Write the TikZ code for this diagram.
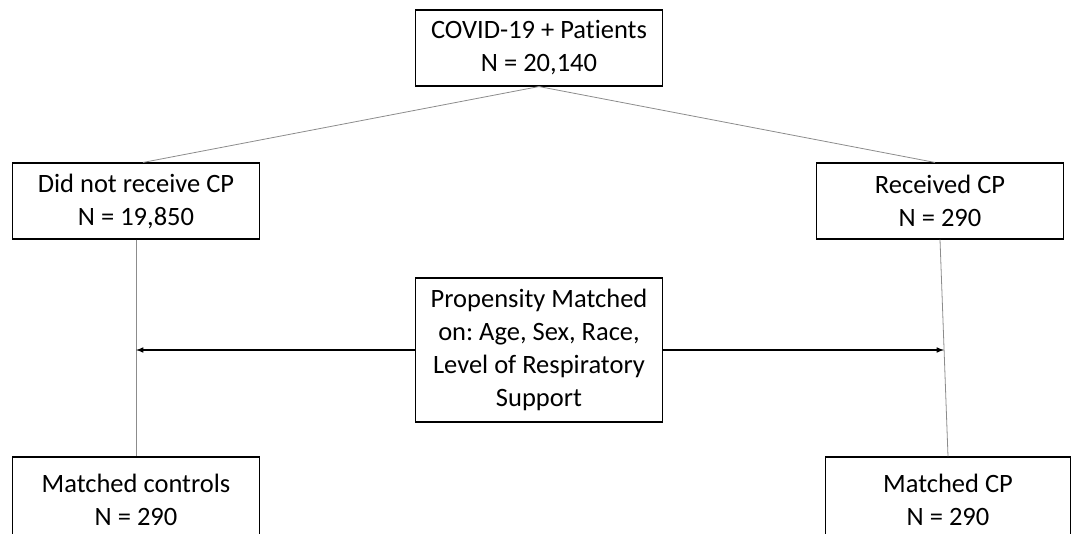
\documentclass[tikz,border=0pt]{standalone}
\usepackage{fontspec}
\setmainfont{Carlito}[Ligatures=NoCommon]
\usetikzlibrary{positioning,arrows,calc}
\frenchspacing

\begin{document}
\begin{tikzpicture}[x=1pt,y=-1pt,
        every node/.style={shape=rectangle,draw,align=center,line width=1.1pt,font=\fontsize{26.5}{33}\selectfont,inner sep=0},
        box/.style={minimum width=247pt,minimum height=76pt},
        link/.style={draw=black!45,line width=0.8pt},
        match/.style={draw=black,line width=1.5pt,->,>=latex},
        ]
\useasboundingbox (0,0) rectangle (1073,533);

\node [box] (all) at (539,48) {COVID-19 + Patients\\N = 20,140};
\node [box] (nocp) at (136,201) {Did not receive CP\\N = 19,850};
\node [box] (cp) at (940,201) {Received CP\\N = 290};
\node [box,minimum height=144pt] (prop) at (539,350) {Propensity Matched\\on: Age, Sex, Race,\\Level of Respiratory\\Support};
\node [box,minimum height=86pt] (ctrl) at (136,500) {Matched controls\\N = 290};
\node [box,minimum width=245pt,minimum height=86pt] (mcp) at (948,500) {Matched CP\\N = 290};

    \path[link] (all.south) edge ([xshift=7pt]nocp.north);
    \path[link] (all.south) edge ([xshift=-5pt]cp.north);
    \path[link] (nocp.south) edge (ctrl.north);
    \path[link] (cp.south) edge (mcp.north);

    \coordinate (l) at (prop.west -| nocp.south);
    \coordinate (r) at ($(cp.south)!0.5!(mcp.north)$);
    \draw[match] (prop.west) -- (l);
    \draw[match] (prop.east) -- (prop.east -| r);

\end{tikzpicture}
\end{document}
